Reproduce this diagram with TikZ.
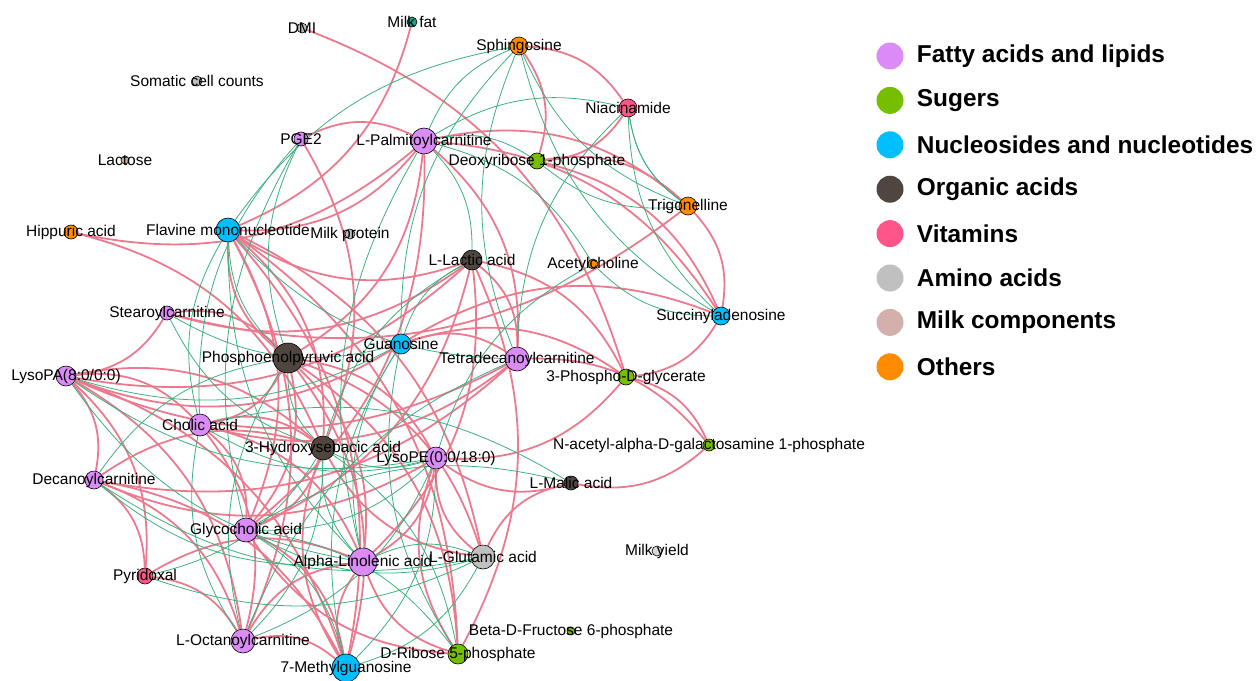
\documentclass[tikz,border=0pt]{standalone}
\usepackage{fontspec}
\setmainfont{Liberation Sans}
\usepackage{tikz}
\usetikzlibrary{positioning,backgrounds}
\definecolor{cfat}{HTML}{DA8BF5}
\definecolor{csug}{HTML}{76BE00}
\definecolor{cnuc}{HTML}{00BFFF}
\definecolor{corg}{HTML}{4F4640}
\definecolor{cvit}{HTML}{FF5588}
\definecolor{camino}{HTML}{C0C0C0}
\definecolor{cmilk}{HTML}{D4B0AC}
\definecolor{coth}{HTML}{FF8C00}
\definecolor{cteal}{HTML}{1AA587}
\definecolor{cneg}{HTML}{EB7A8E}
\definecolor{cpos}{HTML}{3DB07F}
\newcommand{\lblfont}{\fontsize{15.5}{17}\selectfont}
\tikzset{
  met/.style={circle,draw=black,line width=0.6pt,inner sep=0pt},
  every label/.style={font=\lblfont,inner sep=0pt,text=black},
  negedge/.style={draw=cneg,line width=1.8pt},
  posedge/.style={draw=cpos,line width=0.8pt},
  legdot/.style={circle,minimum size=27,inner sep=0pt},
  legtxt/.style={font=\fontsize{24.4}{28}\selectfont\bfseries,inner sep=0pt,anchor=west}
}

\begin{document}
\begin{tikzpicture}[x=1pt,y=-1pt]
  \useasboundingbox (0,0) rectangle (1257,680);
  % milk traits
  \node[met,fill=camino,minimum size=10,label=center:DMI] (dmi) at (302,28) {};
  \node[met,fill=cteal,minimum size=10,label=center:Milk fat] (mfat) at (412,22) {};
  \node[met,fill=camino,minimum size=10,label=center:Somatic cell counts] (scc) at (197,81) {};
  \node[met,fill=cmilk,minimum size=8,label=center:Lactose] (lact) at (125,160) {};
  \node[met,fill=camino,minimum size=10,label=center:Milk protein] (mprot) at (350,234) {};
  \node[met,fill=camino!60,minimum size=10,label=center:Milk yield] (myield) at (657,551) {};
  % metabolites
  \node[met,fill=cfat,minimum size=14,label=center:PGE2] (pge) at (301,139) {};
  \node[met,fill=cfat,minimum size=26,label=center:L-Palmitoylcarnitine] (lpal) at (424,141) {};
  \node[met,fill=coth,minimum size=18,label=center:Sphingosine] (sph) at (519,46) {};
  \node[met,fill=cvit,minimum size=18,label=center:Niacinamide] (nia) at (628,108) {};
  \node[met,fill=csug,minimum size=16,label=center:Deoxyribose 1-phosphate] (deox) at (537,161) {};
  \node[met,fill=coth,minimum size=18,label=center:Trigonelline] (trig) at (688,206) {};
  \node[met,fill=coth,minimum size=14,label=center:Hippuric acid] (hip) at (71,232) {};
  \node[met,fill=cnuc,minimum size=24,label=center:Flavine mononucleotide] (fmn) at (228,230) {};
  \node[met,fill=corg,minimum size=20,label=center:L-Lactic acid] (llac) at (472,260) {};
  \node[met,fill=coth,minimum size=10,label=center:Acetylcholine] (acet) at (593,264) {};
  \node[met,fill=cnuc,minimum size=18,label=center:Succinyladenosine] (succ) at (721,316) {};
  \node[met,fill=cfat,minimum size=14,label=center:Stearoylcarnitine] (stear) at (167,313) {};
  \node[met,fill=cnuc,minimum size=20,label=center:Guanosine] (guan) at (401,344) {};
  \node[met,fill=corg,minimum size=30,label=center:Phosphoenolpyruvic acid] (pep) at (288,358) {};
  \node[met,fill=cfat,minimum size=24,label=center:Tetradecanoylcarnitine] (tetra) at (517,359) {};
  \node[met,fill=csug,minimum size=16,label=center:3-Phospho-D-glycerate] (pgly) at (626,377) {};
  \node[met,fill=cfat,minimum size=20,label=center:LysoPA(8:0/0:0)] (lpa) at (66,376) {};
  \node[met,fill=cfat,minimum size=22,label=center:Cholic acid] (chol) at (200,425) {};
  \node[met,fill=corg,minimum size=24,label=center:3-Hydroxysebacic acid] (hsa) at (323,448) {};
  \node[met,fill=cfat,minimum size=22,label=center:LysoPE(0:0/18:0)] (lpe) at (436,458) {};
  \node[met,fill=csug,minimum size=12,label=center:N-acetyl-alpha-D-galactosamine 1-phosphate] (nacet) at (709,445) {};
  \node[met,fill=corg,minimum size=14,label=center:L-Malic acid] (lmal) at (571,483) {};
  \node[met,fill=cfat,minimum size=18,label=center:Decanoylcarnitine] (dec) at (94,480) {};
  \node[met,fill=cfat,minimum size=24,label=center:Glycocholic acid] (glyc) at (246,530) {};
  \node[met,fill=cfat,minimum size=28,label=center:Alpha-Linolenic acid] (ala) at (363,562) {};
  \node[met,fill=camino,minimum size=24,label=center:L-Glutamic acid] (lglu) at (483,557) {};
  \node[met,fill=cvit,minimum size=16,label=center:Pyridoxal] (pyr) at (145,576) {};
  \node[met,fill=csug,minimum size=8,label=center:Beta-D-Fructose 6-phosphate] (fru) at (571,631) {};
  \node[met,fill=cfat,minimum size=24,label=center:L-Octanoylcarnitine] (loct) at (243,641) {};
  \node[met,fill=csug,minimum size=20,label=center:D-Ribose 5-phosphate] (rib) at (458,654) {};
  \node[met,fill=cnuc,minimum size=28,label=center:7-Methylguanosine] (mgua) at (346,668) {};
  % correlations
  \begin{pgfonlayer}{background}
    \foreach \a/\b in {lpal/hip,mfat/fmn,dmi/pgly,pge/lpal,sph/deox,nia/deox,lpal/trig,trig/succ,
      succ/pgly,llac/fmn,tetra/lpa,pgly/nacet,nacet/lmal,lmal/lpe,pep/fmn,fmn/hsa,fmn/glyc,
      fmn/loct,fmn/mgua,pep/chol,pep/glyc,pep/ala,pep/mgua,pep/rib,pep/lglu,pep/lpe,lpa/chol,
      lpa/dec,lpa/pyr,lpa/loct,lpa/mgua,chol/hsa,chol/glyc,chol/ala,dec/pyr,dec/loct,dec/hsa,
      pyr/loct,pyr/ala,loct/mgua,loct/ala,mgua/ala,mgua/hsa,rib/lpe,rib/ala,lglu/lpe,lglu/lmal,
      lglu/hsa,stear/lpa,stear/pep,hip/hsa,llac/lpa,llac/tetra,llac/pgly,guan/tetra,guan/succ,
      tetra/nacet,pgly/lpe,lpal/tetra,lpal/pep,lpal/glyc,deox/trig,deox/succ,trig/stear,
      lpal/succ,sph/nia,llac/ala,llac/rib,lpe/dec,hsa/glyc,lpe/ala,guan/lpa,tetra/dec,pge/hsa,
      fmn/rib,fmn/lglu,llac/glyc,guan/pgly,tetra/chol,lpa/hsa,dec/mgua,glyc/mgua,chol/loct,
      rib/glyc,lpal/fmn,llac/stear}
      \draw[negedge] (\a) to[bend left=26] (\b);
    \foreach \a/\b in {sph/lpal,sph/guan,sph/tetra,sph/trig,sph/succ,nia/trig,nia/succ,nia/lpal,
      nia/tetra,deox/lpal,deox/trig,acet/succ,acet/lpal,acet/lpe,llac/guan,llac/lpal,llac/hsa,
      guan/mgua,guan/ala,tetra/loct,lmal/glyc,lmal/chol,fmn/tetra,fmn/chol,fmn/ala,pge/pep,
      pge/chol,pge/glyc,lpa/ala,lpa/lpe,lpa/guan,dec/ala,dec/lglu,pyr/lglu,pyr/hsa,glyc/lpe,
      glyc/lglu,loct/lpe,loct/hsa,mgua/lpe,mgua/lglu,mgua/glyc,rib/hsa,rib/glyc,lglu/ala,
      hsa/ala,hsa/lpe,pep/hsa,pep/loct,pep/dec,stear/guan,stear/hsa,chol/lpe,chol/loct,
      sph/fmn,lpal/ala,fmn/pep,nia/trig,guan/rib}
      \draw[posedge] (\a) to[bend right=22] (\b);
  \end{pgfonlayer}
  % legend
  \foreach \c/\t [count=\i] in {cfat/Fatty acids and lipids,csug/Sugers,cnuc/Nucleosides and nucleotides,
      corg/Organic acids,cvit/Vitamins,camino/Amino acids,cmilk/Milk components,coth/Others} {
    \node[legdot,fill=\c] (leg\i) at (890,11.6+44.4*\i) {};
    \node[legtxt,right=13 of leg\i] (legt\i) {\t};
  }
\end{tikzpicture}
\end{document}
